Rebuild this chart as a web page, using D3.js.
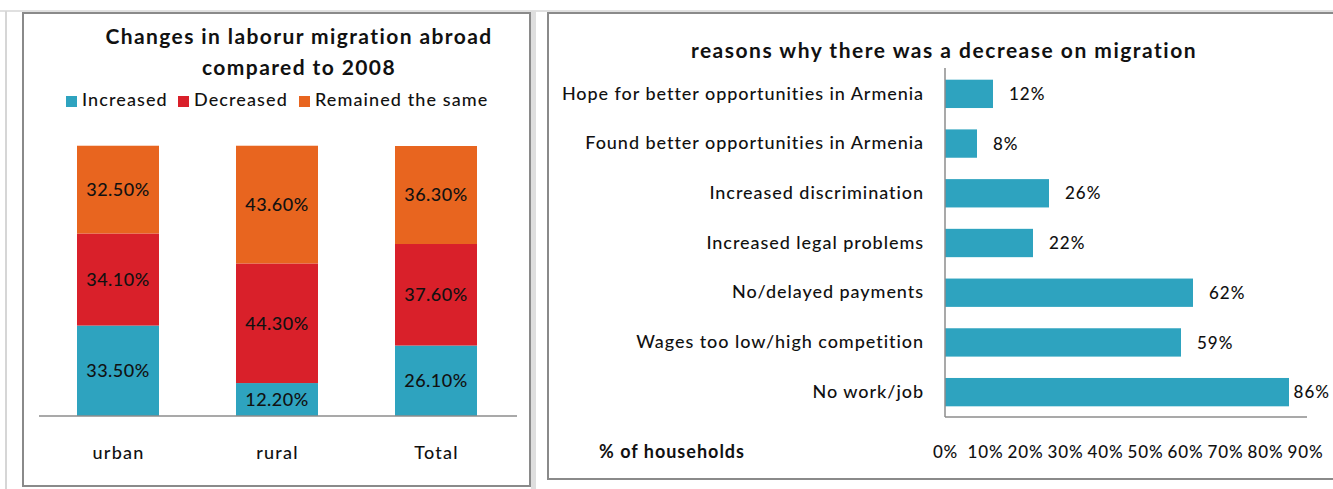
<!DOCTYPE html>
<html>
<head>
<meta charset="utf-8">
<script src="https://cdn.jsdelivr.net/npm/d3@7"></script>
<style>
  html, body { margin: 0; padding: 0; background: #fff; }
  svg { display: block; font-family: Lato, "Open Sans", sans-serif; }
</style>
</head>
<body>
<svg id="chart" width="1333" height="489"></svg>
<script>
// ---- Stacked bars: changes in labour migration abroad ----
const areas = ["urban", "rural", "Total"];
const increased = [33.5, 12.2, 26.1];
const decreased = [34.1, 44.3, 37.6];
const remained = [32.5, 43.6, 36.3];
const seriesNames = ["Increased", "Decreased", "Remained the same"];
const seriesColors = ["#2ea3bf", "#d9202a", "#e8651f"];

// ---- Horizontal bars: reasons for the decrease ----
const reasons = [
  "Hope for better opportunities in Armenia",
  "Found better opportunities in Armenia",
  "Increased discrimination",
  "Increased legal problems",
  "No/delayed payments",
  "Wages too low/high competition",
  "No work/job"
];
const reasonShares = [12, 8, 26, 22, 62, 59, 86];
const shareTicks = [0, 10, 20, 30, 40, 50, 60, 70, 80, 90];

const svg = d3.select("#chart");
const ink = "#111";
const W = 1333;

// sheet grid lines behind the two chart boxes
svg.append("line").attr("x1", 0).attr("x2", W).attr("y1", 11).attr("y2", 11)
  .attr("stroke", "#d6d6d6").attr("stroke-width", 1.5);
svg.append("line").attr("x1", 6).attr("x2", 6).attr("y1", 11).attr("y2", 489)
  .attr("stroke", "#d6d6d6").attr("stroke-width", 2);
svg.append("rect").attr("x", 531).attr("y", 11).attr("width", 5).attr("height", 478)
  .attr("fill", "#dedede");

// chart frames
function frame(x, y, w, h) {
  svg.append("rect").attr("x", x).attr("y", y).attr("width", w).attr("height", h)
    .attr("fill", "#fff").attr("stroke", "#8a8a8a").attr("stroke-width", 2);
}
frame(23, 13, 507, 473);
frame(548, 13, 800, 466);

// shared text styles
function titleStyle(sel) {
  return sel.attr("font-size", 21).attr("font-weight", 700)
    .attr("letter-spacing", 1.4).attr("fill", ink);
}
function labelStyle(sel, size = 18, spacing = 1) {
  return sel.attr("font-size", size).attr("letter-spacing", spacing)
    .attr("font-family", "Lato, sans-serif").attr("font-weight", 500).attr("fill", ink);
}

// ===== Left chart =====
const left = svg.append("g");

left.append("text").attr("x", 299).attr("y", 44).attr("text-anchor", "middle")
  .call(titleStyle).text("Changes in laborur migration abroad");
left.append("text").attr("x", 299).attr("y", 75).attr("text-anchor", "middle")
  .call(titleStyle).text("compared to 2008");

// legend
const legendX = [66, 178, 299];
const legend = left.selectAll("g.legend").data(seriesNames).join("g")
  .attr("class", "legend")
  .attr("transform", (d, i) => `translate(${legendX[i]},106)`);
legend.append("rect").attr("x", 0).attr("y", -10).attr("width", 11).attr("height", 11)
  .attr("fill", (d, i) => seriesColors[i]);
legend.append("text").attr("x", 16).attr("y", 0).call(labelStyle, 18, 1.1)
  .text(d => d);

const xCat = d3.scalePoint().domain(areas).range([38.5, 515.5]).padding(0.5);
const barW = 82;
const yPct = d3.scaleLinear().domain([0, 100]).range([416, 146]);

const rows = areas.map((a, i) => ({
  area: a, Increased: increased[i], Decreased: decreased[i], "Remained the same": remained[i]
}));
const stacked = d3.stack().keys(seriesNames)(rows);

const layers = left.selectAll("g.layer").data(stacked).join("g")
  .attr("class", "layer").attr("fill", (d, i) => seriesColors[i]);
layers.selectAll("rect").data(d => d).join("rect")
  .attr("x", d => xCat(d.data.area) - barW / 2)
  .attr("y", d => yPct(d[1]))
  .attr("width", barW)
  .attr("height", d => yPct(d[0]) - yPct(d[1]));
layers.selectAll("text").data(d => d).join("text")
  .attr("x", d => xCat(d.data.area))
  .attr("y", d => (yPct(d[0]) + yPct(d[1])) / 2)
  .attr("dy", "0.36em")
  .attr("text-anchor", "middle").call(labelStyle, 18, 0.5)
  .text(d => (d[1] - d[0]).toFixed(2) + "%");

const xAxisL = left.append("g").attr("transform", "translate(0,416)")
  .call(d3.axisBottom(xCat).tickSize(0).tickPadding(30));
xAxisL.select(".domain").attr("stroke", "#8c8c8c").attr("stroke-width", 1.5)
  .attr("d", "M39,0H517");
xAxisL.selectAll("text").call(labelStyle, 18, 1.2).attr("dy", "0.72em");

// ===== Right chart =====
const right = svg.append("g");

right.append("text").attr("x", 944).attr("y", 58).attr("text-anchor", "middle")
  .call(titleStyle).attr("letter-spacing", 1.5)
  .text("reasons why there was a decrease on migration");

const xShare = d3.scaleLinear().domain([0, 90]).range([945, 1305]);
const yReason = d3.scaleBand().domain(reasons).range([69, 417])
  .paddingInner(0.43).paddingOuter(0.215);

right.selectAll("rect.bar").data(reasons).join("rect")
  .attr("class", "bar")
  .attr("x", xShare(0))
  .attr("y", d => yReason(d))
  .attr("width", (d, i) => xShare(reasonShares[i]) - xShare(0))
  .attr("height", yReason.bandwidth())
  .attr("fill", "#2ea3bf");

// value labels sit past the bar end, pulled back in if they would leave the page
right.selectAll("text.val").data(reasons).join("text")
  .attr("class", "val")
  .attr("y", d => yReason(d) + yReason.bandwidth() / 2)
  .attr("dy", "0.36em").call(labelStyle, 17, 1)
  .text((d, i) => reasonShares[i] + "%")
  .attr("x", function (d, i) {
    const w = this.getComputedTextLength();
    return Math.min(xShare(reasonShares[i]) + 16, W - 3 - w);
  });

const yAxisR = right.append("g").attr("transform", `translate(${xShare(0)},0)`)
  .call(d3.axisLeft(yReason).tickSize(0).tickPadding(21));
yAxisR.select(".domain").attr("stroke", "#8c8c8c").attr("stroke-width", 1.5)
  .attr("d", "M0,68V417");
yAxisR.selectAll("text").call(labelStyle, 18, 0.95);

const xAxisR = right.append("g").attr("transform", "translate(0,417)")
  .call(d3.axisBottom(xShare).tickValues(shareTicks).tickFormat(d => d + "%")
    .tickSize(0).tickPadding(29));
xAxisR.select(".domain").attr("stroke", "#8c8c8c").attr("stroke-width", 1.5)
  .attr("d", `M${xShare(0)},0H1307`);
xAxisR.selectAll("text").call(labelStyle, 17, 0.8).attr("dy", "0.72em");

right.append("text").attr("x", 599).attr("y", 458).attr("font-size", 18)
  .attr("font-weight", 700).attr("letter-spacing", 1).attr("fill", ink)
  .text("% of households");
</script>
</body>
</html>
